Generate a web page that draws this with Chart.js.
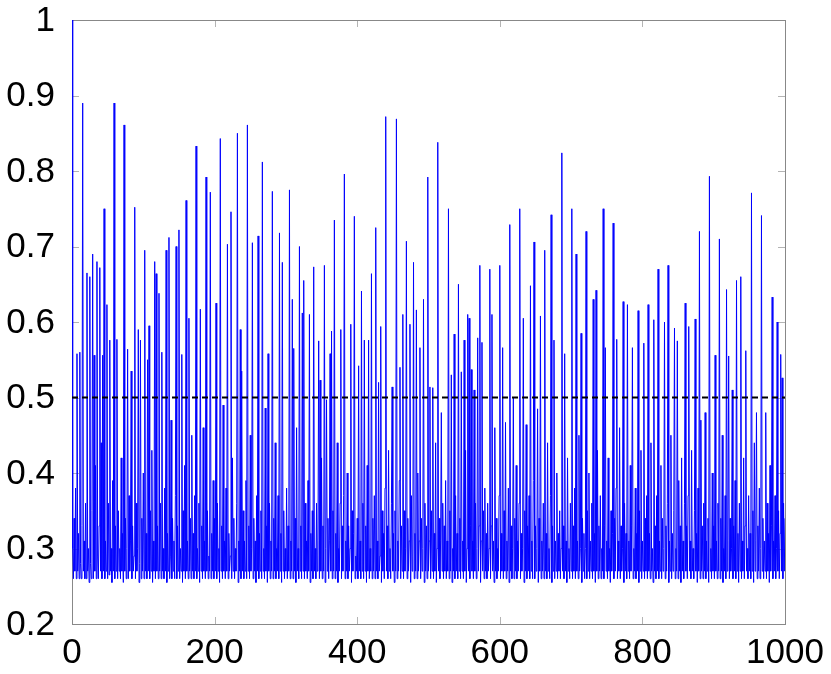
<!DOCTYPE html>
<html>
<head>
<meta charset="utf-8">
<script src="https://cdn.jsdelivr.net/npm/chart.js@4.4.1/dist/chart.umd.min.js"></script>
<style>
  html, body { margin: 0; padding: 0; background: #fff; }
  #wrap { width: 831px; height: 674px; }
</style>
</head>
<body>
<div id="wrap"><canvas id="grafico" width="831" height="674"></canvas></div>
<script>
// una muestra por unidad de x (0 .. 1000), leidas a ojo de la figura, 20 por fila
const senal = [
  1.00, 0.30, 0.26, 0.34, 0.27, 0.38, 0.26, 0.558, 0.27, 0.32, 0.26, 0.56, 0.28, 0.26, 0.33, 0.89, 0.27, 0.31, 0.26, 0.36,
  0.26, 0.665, 0.27, 0.30, 0.255, 0.66, 0.28, 0.26, 0.35, 0.69, 0.26, 0.556, 0.27, 0.41, 0.26, 0.68, 0.29, 0.26, 0.33, 0.672,
  0.27, 0.44, 0.26, 0.556, 0.27, 0.75, 0.26, 0.31, 0.27, 0.623, 0.26, 0.36, 0.265, 0.576, 0.27, 0.30, 0.255, 0.39, 0.27, 0.89,
  0.26, 0.33, 0.27, 0.577, 0.26, 0.35, 0.27, 0.30, 0.26, 0.42, 0.27, 0.32, 0.255, 0.861, 0.27, 0.34, 0.26, 0.30, 0.564, 0.26,
  0.37, 0.27, 0.31, 0.535, 0.26, 0.33, 0.27, 0.29, 0.752, 0.26, 0.36, 0.27, 0.30, 0.59, 0.255, 0.28, 0.576, 0.26, 0.34, 0.27,
  0.40, 0.26, 0.695, 0.27, 0.32, 0.26, 0.55, 0.27, 0.595, 0.26, 0.35, 0.27, 0.43, 0.255, 0.31, 0.27, 0.68, 0.26, 0.664, 0.27,
  0.33, 0.26, 0.638, 0.27, 0.36, 0.26, 0.56, 0.27, 0.30, 0.26, 0.38, 0.27, 0.695, 0.255, 0.32, 0.27, 0.712, 0.26, 0.29, 0.47,
  0.26, 0.34, 0.27, 0.31, 0.26, 0.37, 0.70, 0.26, 0.33, 0.27, 0.722, 0.26, 0.30, 0.27, 0.557, 0.255, 0.35, 0.27, 0.41, 0.26,
  0.761, 0.27, 0.31, 0.26, 0.605, 0.27, 0.34, 0.26, 0.45, 0.27, 0.32, 0.26, 0.37, 0.27, 0.833, 0.26, 0.30, 0.27, 0.36, 0.255,
  0.617, 0.27, 0.33, 0.26, 0.46, 0.27, 0.31, 0.26, 0.792, 0.27, 0.35, 0.26, 0.29, 0.27, 0.772, 0.26, 0.32, 0.27, 0.39, 0.26,
  0.34, 0.27, 0.625, 0.26, 0.36, 0.27, 0.30, 0.255, 0.843, 0.27, 0.33, 0.26, 0.49, 0.27, 0.31, 0.26, 0.38, 0.27, 0.703, 0.26,
  0.32, 0.27, 0.29, 0.746, 0.26, 0.42, 0.27, 0.34, 0.26, 0.30, 0.27, 0.36, 0.85, 0.255, 0.31, 0.27, 0.59, 0.26, 0.535, 0.27,
  0.35, 0.26, 0.31, 0.27, 0.39, 0.26, 0.861, 0.27, 0.33, 0.26, 0.45, 0.27, 0.30, 0.705, 0.26, 0.34, 0.27, 0.31, 0.255, 0.37,
  0.27, 0.714, 0.26, 0.32, 0.27, 0.35, 0.26, 0.812, 0.27, 0.30, 0.26, 0.486, 0.27, 0.33, 0.255, 0.558, 0.27, 0.36, 0.26, 0.31,
  0.27, 0.773, 0.26, 0.34, 0.27, 0.44, 0.26, 0.30, 0.27, 0.37, 0.26, 0.718, 0.27, 0.32, 0.255, 0.679, 0.27, 0.35, 0.26, 0.30,
  0.27, 0.38, 0.26, 0.33, 0.27, 0.775, 0.26, 0.31, 0.27, 0.63, 0.26, 0.565, 0.27, 0.34, 0.255, 0.46, 0.27, 0.30, 0.26, 0.70,
  0.27, 0.33, 0.26, 0.612, 0.27, 0.655, 0.26, 0.36, 0.27, 0.31, 0.26, 0.39, 0.27, 0.61, 0.255, 0.32, 0.27, 0.35, 0.26, 0.673,
  0.27, 0.30, 0.26, 0.36, 0.27, 0.31, 0.575, 0.26, 0.523, 0.27, 0.42, 0.26, 0.33, 0.27, 0.675, 0.255, 0.30, 0.497, 0.27, 0.34,
  0.26, 0.31, 0.558, 0.27, 0.588, 0.26, 0.35, 0.27, 0.735, 0.26, 0.32, 0.27, 0.44, 0.255, 0.30, 0.27, 0.36, 0.59, 0.26, 0.33,
  0.27, 0.37, 0.796, 0.26, 0.31, 0.27, 0.40, 0.26, 0.33, 0.27, 0.30, 0.597, 0.255, 0.35, 0.27, 0.32, 0.74, 0.26, 0.29, 0.27,
  0.34, 0.26, 0.542, 0.27, 0.31, 0.26, 0.641, 0.27, 0.36, 0.26, 0.576, 0.27, 0.33, 0.255, 0.41, 0.27, 0.576, 0.26, 0.30, 0.27,
  0.664, 0.26, 0.34, 0.27, 0.37, 0.26, 0.725, 0.27, 0.31, 0.26, 0.52, 0.27, 0.29, 0.594, 0.255, 0.35, 0.27, 0.32, 0.26, 0.38,
  0.872, 0.27, 0.33, 0.26, 0.43, 0.27, 0.30, 0.26, 0.36, 0.514, 0.27, 0.32, 0.255, 0.35, 0.27, 0.869, 0.26, 0.31, 0.27, 0.39,
  0.54, 0.26, 0.33, 0.27, 0.61, 0.26, 0.35, 0.27, 0.30, 0.707, 0.26, 0.34, 0.27, 0.31, 0.597, 0.255, 0.37, 0.27, 0.29, 0.679,
  0.26, 0.32, 0.27, 0.616, 0.26, 0.40, 0.27, 0.31, 0.566, 0.26, 0.34, 0.27, 0.30, 0.63, 0.255, 0.36, 0.27, 0.33, 0.26, 0.792,
  0.27, 0.31, 0.514, 0.26, 0.35, 0.27, 0.513, 0.26, 0.32, 0.27, 0.44, 0.255, 0.30, 0.838, 0.27, 0.34, 0.26, 0.31, 0.48, 0.27,
  0.36, 0.26, 0.33, 0.27, 0.39, 0.26, 0.31, 0.27, 0.75, 0.26, 0.35, 0.27, 0.53, 0.255, 0.30, 0.27, 0.584, 0.26, 0.37, 0.27,
  0.32, 0.26, 0.65, 0.27, 0.34, 0.26, 0.534, 0.27, 0.31, 0.26, 0.576, 0.27, 0.43, 0.255, 0.30, 0.61, 0.27, 0.605, 0.26, 0.33,
  0.537, 0.27, 0.31, 0.26, 0.51, 0.27, 0.36, 0.26, 0.30, 0.579, 0.27, 0.33, 0.675, 0.255, 0.31, 0.573, 0.27, 0.35, 0.26, 0.38,
  0.27, 0.32, 0.26, 0.36, 0.27, 0.30, 0.67, 0.26, 0.33, 0.61, 0.27, 0.31, 0.255, 0.46, 0.27, 0.34, 0.26, 0.30, 0.27, 0.37,
  0.675, 0.26, 0.32, 0.27, 0.566, 0.26, 0.35, 0.27, 0.467, 0.26, 0.31, 0.27, 0.38, 0.255, 0.729, 0.27, 0.33, 0.26, 0.30, 0.50,
  0.26, 0.34, 0.27, 0.41, 0.26, 0.31, 0.27, 0.36, 0.75, 0.26, 0.32, 0.27, 0.30, 0.605, 0.255, 0.35, 0.27, 0.464, 0.26, 0.33,
  0.27, 0.37, 0.26, 0.648, 0.27, 0.31, 0.26, 0.39, 0.706, 0.26, 0.33, 0.27, 0.30, 0.485, 0.255, 0.34, 0.27, 0.608, 0.26, 0.31,
  0.27, 0.36, 0.26, 0.695, 0.27, 0.32, 0.26, 0.44, 0.27, 0.30, 0.26, 0.37, 0.742, 0.255, 0.33, 0.27, 0.576, 0.26, 0.31, 0.27,
  0.40, 0.26, 0.32, 0.27, 0.35, 0.26, 0.30, 0.824, 0.27, 0.33, 0.26, 0.558, 0.27, 0.31, 0.255, 0.42, 0.27, 0.30, 0.26, 0.36,
  0.27, 0.75, 0.26, 0.33, 0.27, 0.38, 0.26, 0.69, 0.27, 0.31, 0.26, 0.45, 0.27, 0.30, 0.585, 0.255, 0.34, 0.27, 0.32, 0.26,
  0.30, 0.72, 0.26, 0.35, 0.27, 0.40, 0.26, 0.31, 0.27, 0.36, 0.26, 0.63, 0.27, 0.32, 0.255, 0.642, 0.27, 0.43, 0.26, 0.33,
  0.27, 0.37, 0.26, 0.30, 0.27, 0.75, 0.26, 0.33, 0.566, 0.27, 0.31, 0.26, 0.42, 0.27, 0.30, 0.255, 0.35, 0.27, 0.32, 0.731,
  0.26, 0.34, 0.27, 0.38, 0.577, 0.26, 0.31, 0.27, 0.46, 0.26, 0.33, 0.27, 0.30, 0.627, 0.255, 0.36, 0.27, 0.32, 0.26, 0.623,
  0.27, 0.31, 0.26, 0.41, 0.27, 0.33, 0.566, 0.26, 0.30, 0.27, 0.38, 0.26, 0.32, 0.27, 0.615, 0.255, 0.35, 0.27, 0.43, 0.26,
  0.31, 0.27, 0.572, 0.26, 0.34, 0.27, 0.37, 0.26, 0.623, 0.27, 0.32, 0.26, 0.44, 0.27, 0.30, 0.255, 0.603, 0.27, 0.33, 0.26,
  0.37, 0.27, 0.67, 0.26, 0.31, 0.27, 0.41, 0.26, 0.34, 0.27, 0.30, 0.60, 0.26, 0.33, 0.27, 0.36, 0.675, 0.255, 0.31, 0.27,
  0.45, 0.26, 0.32, 0.27, 0.35, 0.592, 0.26, 0.30, 0.27, 0.575, 0.26, 0.39, 0.27, 0.33, 0.255, 0.42, 0.27, 0.31, 0.26, 0.36,
  0.625, 0.27, 0.33, 0.26, 0.37, 0.594, 0.27, 0.31, 0.26, 0.43, 0.27, 0.30, 0.26, 0.35, 0.604, 0.27, 0.32, 0.255, 0.38, 0.27,
  0.72, 0.26, 0.47, 0.27, 0.33, 0.26, 0.36, 0.27, 0.48, 0.26, 0.31, 0.27, 0.34, 0.255, 0.793, 0.27, 0.30, 0.26, 0.40, 0.27,
  0.33, 0.26, 0.556, 0.27, 0.31, 0.26, 0.36, 0.27, 0.71, 0.26, 0.34, 0.27, 0.45, 0.255, 0.30, 0.27, 0.37, 0.26, 0.643, 0.27,
  0.31, 0.555, 0.26, 0.34, 0.27, 0.30, 0.51, 0.26, 0.33, 0.27, 0.39, 0.26, 0.655, 0.27, 0.32, 0.255, 0.36, 0.27, 0.66, 0.26,
  0.31, 0.27, 0.42, 0.26, 0.33, 0.562, 0.27, 0.30, 0.26, 0.37, 0.27, 0.32, 0.26, 0.771, 0.27, 0.35, 0.255, 0.44, 0.27, 0.31,
  0.48, 0.26, 0.33, 0.27, 0.38, 0.26, 0.30, 0.741, 0.27, 0.34, 0.26, 0.31, 0.27, 0.48, 0.26, 0.36, 0.27, 0.32, 0.255, 0.41,
  0.27, 0.33, 0.633, 0.26, 0.31, 0.27, 0.37, 0.26, 0.30, 0.60, 0.27, 0.35, 0.26, 0.32, 0.557, 0.27, 0.526, 0.26, 0.36, 0.27,
  0.34
];
const umbral = 0.5;
const umbralX = [0, 1000];
const xTicks = [0, 200, 400, 600, 800, 1000];
const xTickLabels = ['0', '200', '400', '600', '800', '1000'];
const yTicks = [0.2, 0.3, 0.4, 0.5, 0.6, 0.7, 0.8, 0.9, 1];
const yTickLabels = ['0.2', '0.3', '0.4', '0.5', '0.6', '0.7', '0.8', '0.9', '1'];

const fuente = { family: '"Liberation Sans", Arial, sans-serif', size: 35 };

// marco gris con marcas hacia dentro, estilo pgfplots (debajo de las curvas)
const marco = {
    id: 'marco',
    beforeDatasetsDraw(chart) {
        const { ctx, chartArea: a, scales } = chart;
        ctx.save();
        ctx.strokeStyle = '#b4b4b4';
        ctx.lineWidth = 1;
        ctx.beginPath();
        xTicks.forEach(v => {
            const px = Math.round(scales.x.getPixelForValue(v)) + 0.5;
            ctx.moveTo(px, a.bottom); ctx.lineTo(px, a.bottom - 7);
            ctx.moveTo(px, a.top); ctx.lineTo(px, a.top + 7);
        });
        yTicks.forEach(v => {
            const py = Math.round(scales.y.getPixelForValue(v)) + 0.5;
            ctx.moveTo(a.left, py); ctx.lineTo(a.left + 7, py);
            ctx.moveTo(a.right, py); ctx.lineTo(a.right - 7, py);
        });
        ctx.stroke();
        ctx.strokeStyle = '#888888';
        ctx.strokeRect(Math.round(a.left) + 0.5, Math.round(a.top) + 0.5,
            Math.round(a.right - a.left), Math.round(a.bottom - a.top));
        ctx.restore();
    }
};

const ctx = document.getElementById('grafico').getContext('2d');
new Chart(ctx, {
    type: 'line',
    data: {
        datasets: [{
            data: umbralX.map(x => ({ x: x, y: umbral })),
            borderColor: '#000000',
            borderWidth: 2,
            borderDash: [6, 4],
            pointRadius: 0,
            order: 0
        }, {
            data: senal.map((v, i) => ({ x: i, y: v })),
            borderColor: '#0000ff',
            borderWidth: 1,
            pointRadius: 0,
            tension: 0,
            order: 1
        }]
    },
    options: {
        responsive: false,
        animation: false,
        layout: { padding: { top: 20, right: 46, left: 0, bottom: 0 } },
        plugins: { legend: { display: false }, tooltip: { enabled: false } },
        scales: {
            x: {
                type: 'linear',
                min: 0,
                max: 1000,
                grid: { display: false, drawTicks: false },
                border: { display: false },
                afterBuildTicks: s => { s.ticks = xTicks.map(v => ({ value: v })); },
                afterFit: s => { s.height = 50; s.paddingLeft = 0; s.paddingRight = 0; },
                ticks: {
                    font: fuente,
                    color: '#000',
                    padding: 8,
                    maxRotation: 0,
                    autoSkip: false,
                    callback: (v, i) => xTickLabels[i]
                }
            },
            y: {
                min: 0.2,
                max: 1,
                grid: { display: false, drawTicks: false },
                border: { display: false },
                afterBuildTicks: s => { s.ticks = yTicks.map(v => ({ value: v })); },
                afterFit: s => { s.width = 72; s.paddingTop = 0; s.paddingBottom = 0; },
                ticks: {
                    font: fuente,
                    color: '#000',
                    padding: 17,
                    labelOffset: 1,
                    autoSkip: false,
                    callback: (v, i) => yTickLabels[i]
                }
            }
        }
    },
    plugins: [marco]
});
</script>
</body>
</html>
